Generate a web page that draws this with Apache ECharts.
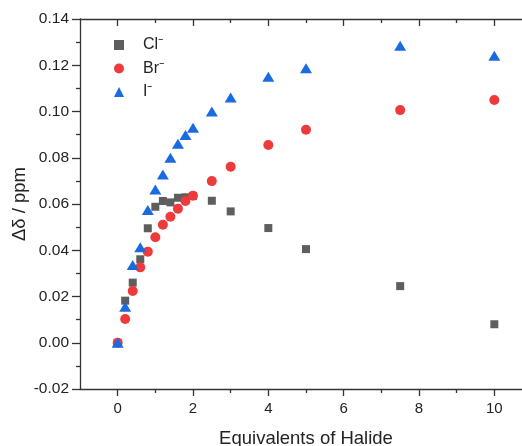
<!DOCTYPE html>
<html>
<head>
<meta charset="utf-8">
<script src="https://cdn.jsdelivr.net/npm/echarts@6/dist/echarts.min.js"></script>
<style>
  html, body { margin: 0; padding: 0; background: #fff; }
  #chart { width: 522px; height: 446px; }
</style>
</head>
<body>
<div id="chart"></div>
<script>
// equivalents of halide added
const equiv = [0, 0.2, 0.4, 0.6, 0.8, 1.0, 1.2, 1.4, 1.6, 1.8, 2.0, 2.5, 3, 4, 5, 7.5, 10];
const chloride = [0, 0.0182, 0.026, 0.0361, 0.0495, 0.0588, 0.0613, 0.0607, 0.0627, 0.0629, 0.0635, 0.0614, 0.0568, 0.0496, 0.0405, 0.0245, 0.008];
const bromide = [0, 0.0103, 0.0224, 0.0326, 0.0394, 0.0456, 0.051, 0.0545, 0.058, 0.0613, 0.0636, 0.0699, 0.0761, 0.0855, 0.0921, 0.1006, 0.105];
const iodide = [0, 0.0156, 0.0336, 0.0413, 0.0574, 0.0663, 0.0728, 0.08, 0.0861, 0.0898, 0.093, 0.1, 0.1061, 0.115, 0.1187, 0.1284, 0.1241];
const seriesNames = ["Cl\u207B", "Br\u207B", "I\u207B"];
const xMajorTicks = [0, 2, 4, 6, 8, 10];
const xMinorTicks = [1, 3, 5, 7, 9, 11];

const font = "'Liberation Sans', Arial, sans-serif";
const axisColor = "#333";

const pairs = (ys) => equiv.map((x, i) => [x, ys[i]]);

// base settings shared by the x axes (bottom + mirrored top)
const xBase = {
  type: "value",
  min: -1,
  max: 11,
  splitLine: { show: false },
};
const lineOff = { show: false, onZero: false };
const tickStyle = { color: axisColor, width: 1.3 };

const option = {
  animation: false,
  textStyle: { fontFamily: font },
  // the plot runs past the right edge of the picture (x = 11 is cropped)
  grid: { left: 80, top: 19, width: 452, height: 370, outerBoundsMode: "none", containLabel: false },
  legend: {
    orient: "vertical",
    left: 109,
    top: 32,
    itemWidth: 10,
    itemHeight: 10,
    itemGap: 7.5,
    textStyle: { fontSize: 16, color: "#222", fontFamily: font, padding: [0, 0, 0, 14] },
    data: seriesNames,
  },
  xAxis: [
    {
      ...xBase,
      position: "bottom",
      name: "Equivalents of Halide",
      nameLocation: "middle",
      nameGap: 40,
      nameTextStyle: { fontSize: 18.5, color: "#222" },
      axisLine: { onZero: false, lineStyle: tickStyle },
      axisTick: { length: 7, customValues: xMajorTicks, lineStyle: tickStyle },
      axisLabel: { customValues: xMajorTicks, fontSize: 15, color: "#222", margin: 12 },
    },
    {
      ...xBase,
      position: "bottom",
      axisLine: lineOff,
      axisTick: { length: 4, customValues: xMinorTicks, lineStyle: tickStyle },
      axisLabel: { show: false },
    },
    {
      ...xBase,
      position: "top",
      axisLine: { onZero: false, lineStyle: tickStyle },
      axisTick: { inside: true, length: 7, customValues: xMajorTicks, lineStyle: tickStyle },
      axisLabel: { show: false },
    },
    {
      ...xBase,
      position: "top",
      axisLine: lineOff,
      axisTick: { inside: true, length: 4, customValues: xMinorTicks, lineStyle: tickStyle },
      axisLabel: { show: false },
    },
  ],
  yAxis: {
    type: "value",
    min: -0.02,
    max: 0.14,
    interval: 0.02,
    name: "\u0394\u03B4 / ppm",
    nameLocation: "middle",
    nameRotate: 90,
    nameGap: 51,
    nameMoveOverlap: false,
    nameTextStyle: { fontSize: 18.5, color: "#222" },
    splitLine: { show: false },
    axisLine: { show: true, onZero: false, lineStyle: tickStyle },
    axisTick: { show: true, length: 8, lineStyle: tickStyle },
    minorTick: { show: true, splitNumber: 2, length: 4, lineStyle: tickStyle },
    axisLabel: {
      fontSize: 15.5,
      color: "#222",
      margin: 11,
      formatter: (v) => v.toFixed(2),
    },
  },
  series: [
    {
      name: seriesNames[0],
      type: "scatter",
      symbol: "rect",
      symbolSize: 8,
      itemStyle: { color: "#5e5e5e", opacity: 1 },
      data: pairs(chloride),
    },
    {
      name: seriesNames[1],
      type: "scatter",
      symbol: "circle",
      symbolSize: 10,
      itemStyle: { color: "#ee3a3a", opacity: 1 },
      data: pairs(bromide),
    },
    {
      name: seriesNames[2],
      type: "scatter",
      symbol: "triangle",
      symbolSize: [12, 10],
      itemStyle: { color: "#1a6ae0", opacity: 1 },
      data: pairs(iodide),
    },
  ],
};

const chart = echarts.init(document.getElementById("chart"));
chart.setOption(option);
</script>
</body>
</html>
